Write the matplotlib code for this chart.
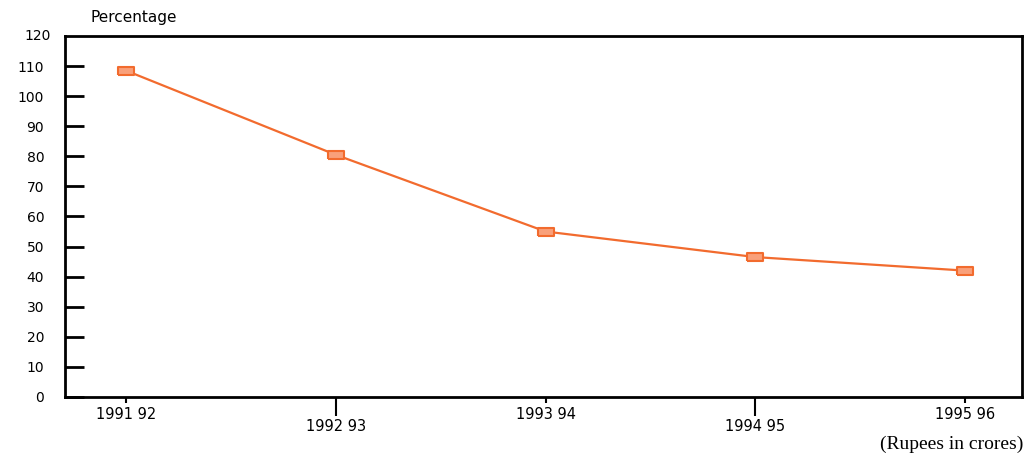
import matplotlib
matplotlib.use("Agg")
import matplotlib.pyplot as plt
import numpy as np

years = ["1991 92", "1992 93", "1993 94", "1994 95", "1995 96"]
percentage = [108.5, 80.5, 55.0, 46.5, 42.0]
yticks = list(range(0, 121, 10))

LINE = "#F26B2E"
FILL = "#F9A07A"

fig = plt.figure(figsize=(10.34, 4.57), dpi=100)
ax = fig.add_axes([0.0629, 0.1313, 0.9255, 0.79])

x = np.arange(len(years))
# flat rectangle marker, like the original
rect = [(-1.8, -1), (1.8, -1), (1.8, 1), (-1.8, 1), (-1.8, -1)]
ax.plot(x, percentage, color=LINE, lw=1.6, marker=rect, markersize=11,
        markerfacecolor=FILL, markeredgecolor=LINE, markeredgewidth=1.5)

ax.set_xlim(-0.29, 4.27)
ax.set_ylim(0, 120)

for s in ax.spines.values():
    s.set_linewidth(2)

ax.set_yticks(yticks[:-1])
ax.set_yticklabels([str(v) for v in yticks[:-1]], fontsize=10)
ax.tick_params(axis="y", direction="in", length=14, width=2, pad=15)
# 120 label sits at the top edge without a tick
ax.text(-0.015, 1.0, "120", transform=ax.transAxes, ha="right", va="center",
        fontsize=10)

# staggered year labels: even ones on major ticks, odd ones on minor ticks
ax.set_xticks(x[::2])
ax.set_xticklabels(years[::2], fontsize=10.5)
ax.set_xticks(x[1::2], minor=True)
ax.set_xticklabels(years[1::2], minor=True, fontsize=10.5)
ax.tick_params(axis="x", which="major", direction="out", width=1.5,
               length=4, pad=3)
ax.tick_params(axis="x", which="minor", direction="out", width=1.5,
               length=14, pad=2)

ax.text(0.027, 1.03, "Percentage", transform=ax.transAxes, ha="left",
        va="bottom", fontsize=11)
fig.text(0.99, 0.008, "(Rupees in crores)", ha="right", va="bottom",
         fontsize=14, family="Liberation Serif")

fig.savefig("out.png", dpi=100)
plt.close(fig)
